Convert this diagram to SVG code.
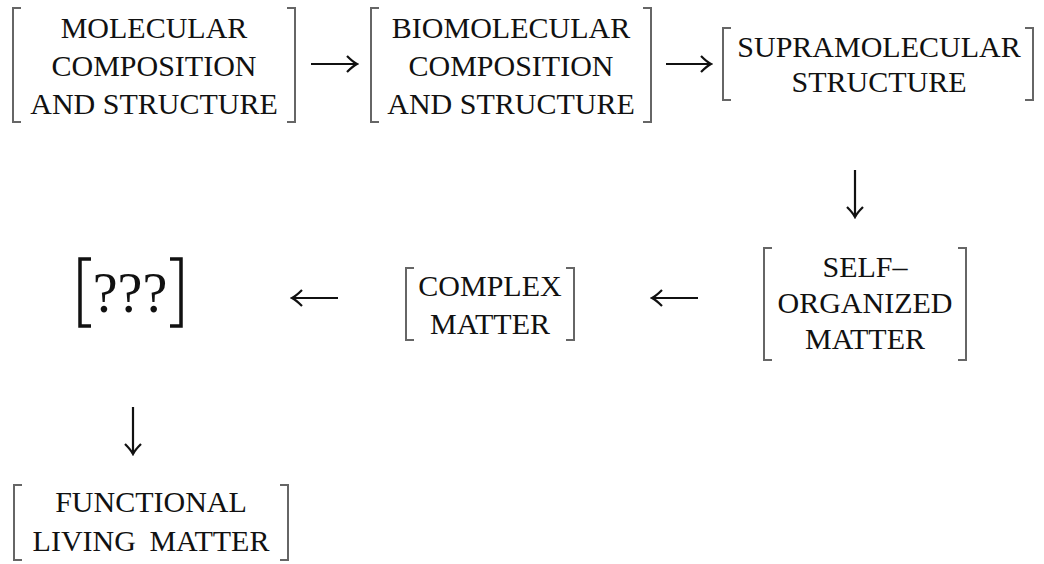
<svg xmlns="http://www.w3.org/2000/svg" width="1044" height="564" viewBox="0 0 1044 564">
<defs>
  <marker id="arr" viewBox="-12 -10 14 20" refX="0" refY="0" markerWidth="14" markerHeight="20" markerUnits="userSpaceOnUse" orient="auto">
    <path d="M-10,-8 Q-4,-2 0,0 Q-4,2 -10,8" fill="none" stroke="#111" stroke-width="2.2"/>
  </marker>
</defs>
<rect width="1044" height="564" fill="#fff"/>
<g id="connectors" fill="none" stroke="#111" stroke-width="2.2" marker-end="url(#arr)">
  <line x1="311" y1="64" x2="357" y2="64"/>
  <line x1="666" y1="64" x2="711" y2="64"/>
  <line x1="855" y1="170" x2="855" y2="217"/>
  <line x1="698" y1="298" x2="652" y2="298"/>
  <line x1="338" y1="298" x2="292" y2="298"/>
  <line x1="133" y1="407" x2="133" y2="454"/>
</g>
<g id="n1">
  <path fill="none" stroke="#666" stroke-width="2" d="M21,8 H13 V122 H21 M287,8 H295 V122 H287"/>
  <text font-family="Liberation Serif" font-size="30" text-anchor="middle" fill="#111" x="154" y="38">MOLECULAR</text>
  <text font-family="Liberation Serif" font-size="30" text-anchor="middle" fill="#111" x="154" y="76">COMPOSITION</text>
  <text font-family="Liberation Serif" font-size="30" text-anchor="middle" fill="#111" x="154" y="114">AND STRUCTURE</text>
</g>
<g id="n2">
  <path fill="none" stroke="#666" stroke-width="2" d="M379,8 H371 V122 H379 M643,8 H651 V122 H643"/>
  <text font-family="Liberation Serif" font-size="30" text-anchor="middle" fill="#111" x="511" y="38">BIOMOLECULAR</text>
  <text font-family="Liberation Serif" font-size="30" text-anchor="middle" fill="#111" x="511" y="76">COMPOSITION</text>
  <text font-family="Liberation Serif" font-size="30" text-anchor="middle" fill="#111" x="511" y="114">AND STRUCTURE</text>
</g>
<g id="n3">
  <path fill="none" stroke="#666" stroke-width="2" d="M731,28 H723 V100 H731 M1025,28 H1033 V100 H1025"/>
  <text font-family="Liberation Serif" font-size="30" text-anchor="middle" fill="#111" x="879" y="57">SUPRAMOLECULAR</text>
  <text font-family="Liberation Serif" font-size="30" text-anchor="middle" fill="#111" x="879" y="92">STRUCTURE</text>
</g>
<g id="n4">
  <path fill="none" stroke="#666" stroke-width="2" d="M772,248 H764 V360 H772 M958,248 H966 V360 H958"/>
  <text font-family="Liberation Serif" font-size="30" text-anchor="middle" fill="#111" x="865" y="277">SELF–</text>
  <text font-family="Liberation Serif" font-size="30" text-anchor="middle" fill="#111" x="865" y="313">ORGANIZED</text>
  <text font-family="Liberation Serif" font-size="30" text-anchor="middle" fill="#111" x="865" y="349">MATTER</text>
</g>
<g id="n5">
  <path fill="none" stroke="#666" stroke-width="2" d="M414,268 H406 V340 H414 M566,268 H574 V340 H566"/>
  <text font-family="Liberation Serif" font-size="30" text-anchor="middle" fill="#111" x="490" y="296">COMPLEX</text>
  <text font-family="Liberation Serif" font-size="30" text-anchor="middle" fill="#111" x="490" y="334">MATTER</text>
</g>
<g id="n6">
  <path fill="none" stroke="#111" stroke-width="3.5" d="M91,259 H80 V326 H91 M170,259 H181 V326 H170"/>
  <text font-family="Liberation Serif" font-size="56" text-anchor="middle" fill="#111" x="130" y="312">???</text>
</g>
<g id="n7">
  <path fill="none" stroke="#666" stroke-width="2" d="M22,485 H14 V560 H22 M280,485 H288 V560 H280"/>
  <text font-family="Liberation Serif" font-size="30" text-anchor="middle" fill="#111" x="151" y="512">FUNCTIONAL</text>
  <text font-family="Liberation Serif" font-size="30" text-anchor="middle" fill="#111" x="151" y="551" word-spacing="6">LIVING MATTER</text>
</g>
</svg>
